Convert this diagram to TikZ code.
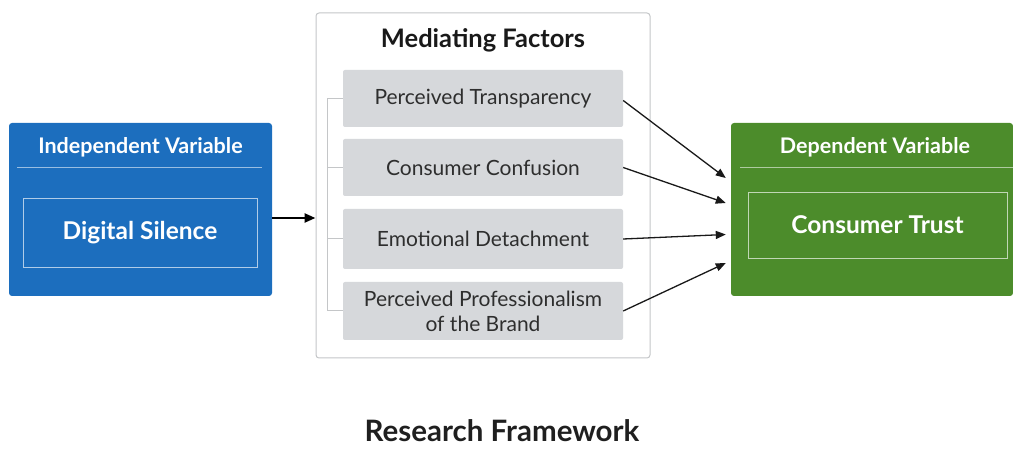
\documentclass[tikz,border=0pt]{standalone}
\usepackage{fontspec}
\setmainfont{Lato}
\usetikzlibrary{arrows.meta}

\definecolor{ivblue}{HTML}{1C6EBE}
\definecolor{dvgreen}{HTML}{4C8C2B}
\definecolor{factorgray}{HTML}{D6D8DB}
\definecolor{framegray}{HTML}{C4C6C8}
\definecolor{textdark}{HTML}{2E2E2E}

\tikzset{
  varbox/.style={rounded corners=3pt, inner sep=0pt, minimum height=173pt},
  headtext/.style={text=white, font=\fontsize{21.5}{24}\selectfont\bfseries},
  innerbox/.style={draw=white!65!#1, line width=0.8pt, inner sep=0pt, text=white,
    font=\fontsize{24.5}{28}\selectfont\bfseries},
  factor/.style={fill=factorgray, rounded corners=2pt, minimum width=280pt, inner sep=0pt,
    text=textdark, align=center, font=\fontsize{21}{25}\selectfont},
  link/.style={-{Triangle[length=10pt,width=8pt]}, line width=1.3pt, black!90},
  bracket/.style={draw=framegray, line width=1pt}
}

\begin{document}
\begin{tikzpicture}[x=1pt, y=-1pt]
  \useasboundingbox (0,0) rectangle (1013,449);

  % independent variable
  \node[varbox, fill=ivblue, minimum width=263pt] (iv) at (140.5,209.5) {};
  \node[headtext] (ivhead) at (140.5,147) {Independent Variable};
  \draw[white!55!ivblue, line width=0.8pt] (17,167) -- (262,167);
  \node[innerbox=ivblue, minimum width=234pt, minimum height=69pt] (ds) at (140,232.5) {Digital Silence};

  % mediating factors
  \node[draw=framegray, line width=1pt, rounded corners=3pt, fill=white,
        minimum width=334pt, minimum height=345pt] (med) at (483,185.5) {};
  \node[text=black!90, font=\fontsize{25.5}{28}\selectfont\bfseries] (medhead) at (483,40) {Mediating Factors};

  \node[factor, minimum height=57pt] (f1) at (483,98.5) {Perceived Transparency};
  \node[factor, minimum height=57pt] (f2) at (483,167.5) {Consumer Confusion};
  \node[factor, minimum height=60pt] (f3) at (483,239) {Emotional Detachment};
  \node[factor, minimum height=58pt] (f4) at (483,311) {Perceived Professionalism\\of the Brand};

  % bracket joining the factors
  \draw[bracket] (f1.west) -- ++(-15,0) |- (f4.west);
  \draw[bracket] (f2.west) -- ++(-15,0);
  \draw[bracket] (f3.west) -- ++(-15,0);

  % dependent variable
  \node[varbox, fill=dvgreen, minimum width=282pt] (dv) at (872,209.5) {};
  \node[headtext] (dvhead) at (875,147) {Dependent Variable};
  \draw[white!55!dvgreen, line width=0.8pt] (740,167) -- (1013,167);
  \node[innerbox=dvgreen, minimum width=259pt, minimum height=66pt] (ct) at (877.5,225) {Consumer Trust};

  % arrows
  \draw[-{Triangle[length=11pt,width=9pt]}, line width=2.4pt] ([yshift=-8.5pt]iv.east) -- ([yshift=-8.5pt]iv.east -| med.west);
  \draw[link] ([yshift=-2pt]f1.east) -- ([xshift=-5pt,yshift=31.5pt]dv.west);
  \draw[link] (f2.east) -- ([xshift=-5pt,yshift=6.5pt]dv.west);
  \draw[link] (f3.east) -- ([xshift=-5pt,yshift=-25pt]dv.west);
  \draw[link] (f4.east) -- ([xshift=-5pt,yshift=-53.5pt]dv.west);

  \node[anchor=base, inner sep=0pt, text=black!88, font=\fontsize{29.5}{32}\selectfont\bfseries] (title) at (502,441) {Research Framework};
\end{tikzpicture}
\end{document}
